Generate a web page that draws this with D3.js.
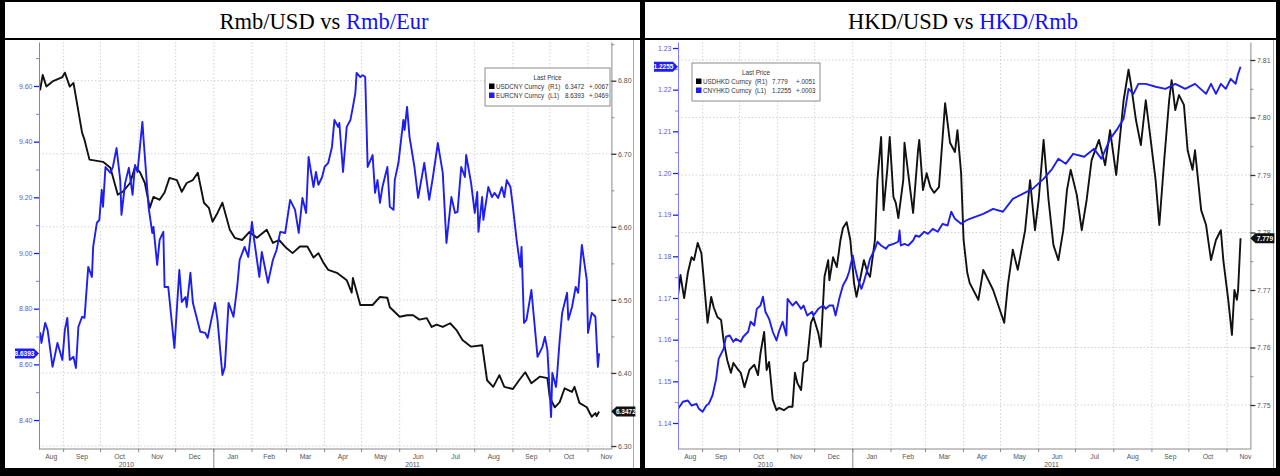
<!DOCTYPE html>
<html><head><meta charset="utf-8">
<script src="https://cdn.jsdelivr.net/npm/d3@7"></script>
<style>body{margin:0;background:#fff;}svg{display:block;}</style>
</head><body>
<svg id="c" width="1280" height="476"></svg>
<script>
// ---------------- DATA ----------------
const months = ["Aug","Sep","Oct","Nov","Dec","Jan","Feb","Mar","Apr","May","Jun","Jul","Aug","Sep","Oct","Nov"];
const years = ["2010","2011"];
const titleLeft = ["Rmb/USD vs ", "Rmb/Eur"];
const titleRight = ["HKD/USD vs ", "HKD/Rmb"];

const ticksRmbEur = [8.40, 8.60, 8.80, 9.00, 9.20, 9.40, 9.60];
const ticksRmbUsd = [6.30, 6.40, 6.50, 6.60, 6.70, 6.80];
const ticksHkdRmb = [1.14, 1.15, 1.16, 1.17, 1.18, 1.19, 1.20, 1.21, 1.22, 1.23];
const ticksHkdUsd = [7.75, 7.76, 7.77, 7.78, 7.79, 7.80, 7.81];

const legendLeft = [["USDCNY Curncy","(R1)","6.3472","+.0067"],["EURCNY Curncy","(L1)","8.6393","+.0469"]];
const legendRight = [["USDHKD Curncy","(R1)","7.779","+.0051"],["CNYHKD Curncy","(L1)","1.2255","+.0003"]];

const usdcny = [["2010-08-12",6.790],["2010-08-13",6.788],["2010-08-15",6.808],["2010-08-18",6.792],["2010-08-23",6.799],["2010-08-31",6.805],["2010-09-02",6.811],["2010-09-06",6.792],["2010-09-09",6.797],["2010-09-16",6.729],["2010-09-18",6.719],["2010-09-22",6.692],["2010-10-03",6.689],["2010-10-09",6.681],["2010-10-15",6.644],["2010-10-19",6.648],["2010-10-25",6.660],["2010-10-29",6.682],["2010-11-02",6.675],["2010-11-06",6.660],["2010-11-10",6.626],["2010-11-13",6.641],["2010-11-18",6.637],["2010-11-22",6.647],["2010-11-26",6.667],["2010-12-02",6.664],["2010-12-06",6.648],["2010-12-10",6.660],["2010-12-15",6.664],["2010-12-19",6.674],["2010-12-24",6.633],["2010-12-28",6.626],["2010-12-31",6.607],["2011-01-04",6.619],["2011-01-08",6.633],["2011-01-14",6.596],["2011-01-18",6.585],["2011-01-24",6.582],["2011-01-30",6.593],["2011-02-05",6.585],["2011-02-13",6.596],["2011-02-18",6.578],["2011-02-23",6.582],["2011-03-01",6.571],["2011-03-06",6.564],["2011-03-12",6.573],["2011-03-18",6.573],["2011-03-23",6.558],["2011-03-27",6.564],["2011-03-31",6.551],["2011-04-04",6.541],["2011-04-11",6.537],["2011-04-19",6.527],["2011-04-23",6.510],["2011-04-24",6.530],["2011-04-30",6.493],["2011-05-10",6.493],["2011-05-16",6.504],["2011-05-22",6.503],["2011-05-24",6.490],["2011-06-01",6.477],["2011-06-07",6.479],["2011-06-12",6.479],["2011-06-17",6.473],["2011-06-23",6.475],["2011-06-27",6.463],["2011-07-01",6.466],["2011-07-06",6.463],["2011-07-12",6.468],["2011-07-17",6.459],["2011-07-22",6.445],["2011-07-29",6.436],["2011-08-07",6.438],["2011-08-11",6.390],["2011-08-16",6.381],["2011-08-21",6.397],["2011-08-25",6.381],["2011-09-01",6.378],["2011-09-06",6.390],["2011-09-11",6.401],["2011-09-16",6.386],["2011-09-23",6.395],["2011-09-29",6.393],["2011-10-01",6.366],["2011-10-05",6.353],["2011-10-09",6.360],["2011-10-13",6.379],["2011-10-19",6.374],["2011-10-21",6.381],["2011-10-25",6.359],["2011-10-31",6.353],["2011-11-04",6.340],["2011-11-07",6.345],["2011-11-08",6.341],["2011-11-10",6.3472]];

const eurcny = [["2010-08-12",8.710],["2010-08-13",8.713],["2010-08-14",8.677],["2010-08-17",8.749],["2010-08-19",8.724],["2010-08-23",8.591],["2010-08-27",8.677],["2010-08-31",8.616],["2010-09-02",8.724],["2010-09-04",8.767],["2010-09-06",8.616],["2010-09-09",8.627],["2010-09-11",8.587],["2010-09-13",8.735],["2010-09-16",8.771],["2010-09-18",8.767],["2010-09-21",8.950],["2010-09-24",8.914],["2010-09-25",9.022],["2010-09-28",9.108],["2010-09-30",9.119],["2010-10-02",9.227],["2010-10-03",9.166],["2010-10-05",9.309],["2010-10-09",9.288],["2010-10-11",9.309],["2010-10-14",9.377],["2010-10-17",9.262],["2010-10-18",9.137],["2010-10-21",9.252],["2010-10-24",9.306],["2010-10-27",9.209],["2010-10-29",9.316],["2010-10-31",9.291],["2010-11-04",9.471],["2010-11-05",9.406],["2010-11-09",9.166],["2010-11-12",9.072],["2010-11-13",9.094],["2010-11-16",8.957],["2010-11-18",9.047],["2010-11-21",9.076],["2010-11-22",8.878],["2010-11-25",8.878],["2010-11-30",8.659],["2010-12-04",8.939],["2010-12-06",8.824],["2010-12-09",8.842],["2010-12-10",8.806],["2010-12-13",8.929],["2010-12-15",8.821],["2010-12-21",8.717],["2010-12-25",8.713],["2010-12-27",8.695],["2010-12-30",8.760],["2011-01-02",8.821],["2011-01-04",8.760],["2011-01-08",8.562],["2011-01-10",8.591],["2011-01-13",8.821],["2011-01-17",8.771],["2011-01-20",8.878],["2011-01-22",8.975],["2011-01-26",9.022],["2011-01-29",8.986],["2011-02-01",9.112],["2011-02-03",9.040],["2011-02-07",8.914],["2011-02-09",9.004],["2011-02-14",8.893],["2011-02-18",8.975],["2011-02-21",9.011],["2011-02-24",9.076],["2011-02-28",9.072],["2011-03-04",9.191],["2011-03-08",9.155],["2011-03-11",9.072],["2011-03-14",9.198],["2011-03-17",9.144],["2011-03-19",9.345],["2011-03-23",9.237],["2011-03-25",9.291],["2011-03-27",9.245],["2011-03-30",9.273],["2011-04-01",9.309],["2011-04-04",9.324],["2011-04-07",9.381],["2011-04-09",9.478],["2011-04-12",9.453],["2011-04-13",9.467],["2011-04-16",9.291],["2011-04-19",9.453],["2011-04-22",9.478],["2011-04-24",9.525],["2011-04-26",9.575],["2011-04-27",9.647],["2011-04-30",9.632],["2011-05-02",9.639],["2011-05-04",9.632],["2011-05-06",9.309],["2011-05-10",9.352],["2011-05-12",9.216],["2011-05-14",9.262],["2011-05-16",9.180],["2011-05-18",9.237],["2011-05-22",9.309],["2011-05-24",9.166],["2011-05-27",9.155],["2011-05-28",9.262],["2011-05-31",9.324],["2011-06-04",9.478],["2011-06-05",9.442],["2011-06-07",9.525],["2011-06-09",9.417],["2011-06-13",9.309],["2011-06-16",9.198],["2011-06-19",9.273],["2011-06-21",9.324],["2011-06-25",9.191],["2011-06-28",9.273],["2011-07-02",9.395],["2011-07-06",9.288],["2011-07-09",9.036],["2011-07-13",9.201],["2011-07-16",9.144],["2011-07-18",9.148],["2011-07-21",9.309],["2011-07-24",9.273],["2011-07-25",9.352],["2011-07-29",9.252],["2011-08-01",9.144],["2011-08-03",9.219],["2011-08-04",9.076],["2011-08-07",9.201],["2011-08-08",9.119],["2011-08-12",9.237],["2011-08-15",9.201],["2011-08-17",9.216],["2011-08-20",9.198],["2011-08-23",9.237],["2011-08-25",9.201],["2011-08-27",9.262],["2011-08-30",9.237],["2011-09-01",9.166],["2011-09-04",9.047],["2011-09-07",8.950],["2011-09-08",9.022],["2011-09-10",8.749],["2011-09-12",8.760],["2011-09-16",8.867],["2011-09-18",8.771],["2011-09-21",8.627],["2011-09-25",8.663],["2011-09-27",8.699],["2011-09-29",8.652],["2011-10-02",8.411],["2011-10-03",8.569],["2011-10-06",8.519],["2011-10-07",8.569],["2011-10-09",8.688],["2011-10-11",8.785],["2011-10-15",8.857],["2011-10-16",8.760],["2011-10-19",8.806],["2011-10-22",8.878],["2011-10-24",8.857],["2011-10-27",9.029],["2011-10-31",8.903],["2011-11-01",8.713],["2011-11-04",8.785],["2011-11-07",8.771],["2011-11-09",8.591],["2011-11-10",8.6393]];

const usdhkd = [["2010-08-12",7.7690],["2010-08-14",7.7726],["2010-08-17",7.7686],["2010-08-20",7.7730],["2010-08-23",7.7757],["2010-08-25",7.7752],["2010-08-28",7.7782],["2010-08-31",7.7764],["2010-09-02",7.7717],["2010-09-05",7.7643],["2010-09-08",7.7688],["2010-09-10",7.7670],["2010-09-13",7.7653],["2010-09-16",7.7648],["2010-09-18",7.7613],["2010-09-21",7.7578],["2010-09-24",7.7556],["2010-09-26",7.7573],["2010-09-30",7.7561],["2010-10-02",7.7556],["2010-10-05",7.7531],["2010-10-09",7.7561],["2010-10-13",7.7570],["2010-10-16",7.7552],["2010-10-18",7.7590],["2010-10-21",7.7627],["2010-10-23",7.7561],["2010-10-25",7.7575],["2010-10-28",7.7509],["2010-10-31",7.7491],["2010-11-02",7.7495],["2010-11-06",7.7491],["2010-11-10",7.7497],["2010-11-13",7.7497],["2010-11-15",7.7556],["2010-11-17",7.7538],["2010-11-20",7.7526],["2010-11-22",7.7573],["2010-11-25",7.7578],["2010-11-28",7.7643],["2010-11-30",7.7653],["2010-12-04",7.7625],["2010-12-06",7.7601],["2010-12-09",7.7723],["2010-12-12",7.7752],["2010-12-13",7.7717],["2010-12-16",7.7757],["2010-12-19",7.7740],["2010-12-22",7.7787],["2010-12-24",7.7808],["2010-12-27",7.7818],["2010-12-30",7.7787],["2011-01-02",7.7712],["2011-01-04",7.7688],["2011-01-08",7.7730],["2011-01-10",7.7752],["2011-01-13",7.7730],["2011-01-15",7.7723],["2011-01-19",7.7787],["2011-01-21",7.7891],["2011-01-24",7.7966],["2011-01-26",7.7839],["2011-01-29",7.7909],["2011-01-31",7.7966],["2011-02-03",7.7862],["2011-02-05",7.7851],["2011-02-07",7.7825],["2011-02-11",7.7891],["2011-02-12",7.7956],["2011-02-15",7.7903],["2011-02-19",7.7834],["2011-02-23",7.7943],["2011-02-24",7.7961],["2011-02-27",7.7874],["2011-03-02",7.7903],["2011-03-05",7.7879],["2011-03-08",7.7869],["2011-03-12",7.7879],["2011-03-15",7.7966],["2011-03-17",7.8025],["2011-03-21",7.7956],["2011-03-25",7.7940],["2011-03-27",7.7978],["2011-03-30",7.7903],["2011-04-01",7.7787],["2011-04-04",7.7730],["2011-04-06",7.7712],["2011-04-13",7.7683],["2011-04-17",7.7735],["2011-04-25",7.7700],["2011-05-04",7.7643],["2011-05-07",7.7709],["2011-05-11",7.7770],["2011-05-15",7.7735],["2011-05-21",7.7804],["2011-05-25",7.7891],["2011-05-29",7.7804],["2011-06-01",7.7857],["2011-06-05",7.7961],["2011-06-09",7.7857],["2011-06-13",7.7778],["2011-06-17",7.7752],["2011-06-21",7.7804],["2011-06-24",7.7874],["2011-06-27",7.7909],["2011-07-02",7.7865],["2011-07-06",7.7804],["2011-07-10",7.7857],["2011-07-14",7.7926],["2011-07-20",7.7961],["2011-07-25",7.7917],["2011-07-29",7.7978],["2011-08-03",7.7900],["2011-08-09",7.8030],["2011-08-13",7.8083],["2011-08-15",7.8057],["2011-08-19",7.7996],["2011-08-23",7.7952],["2011-08-27",7.8030],["2011-08-31",7.7961],["2011-09-04",7.7891],["2011-09-07",7.7813],["2011-09-11",7.7926],["2011-09-15",7.8030],["2011-09-17",7.8065],["2011-09-20",7.8013],["2011-09-23",7.8039],["2011-09-27",7.8022],["2011-09-30",7.7943],["2011-10-04",7.7909],["2011-10-06",7.7943],["2011-10-11",7.7839],["2011-10-15",7.7813],["2011-10-19",7.7752],["2011-10-23",7.7787],["2011-10-27",7.7804],["2011-10-29",7.7752],["2011-11-02",7.7683],["2011-11-05",7.7622],["2011-11-07",7.7700],["2011-11-09",7.7683],["2011-11-10",7.7700],["2011-11-12",7.7790]];

const cnyhkd = [["2010-08-12",1.1434],["2010-08-16",1.1451],["2010-08-20",1.1454],["2010-08-23",1.1442],["2010-08-27",1.1446],["2010-08-29",1.1434],["2010-09-01",1.1427],["2010-09-04",1.1442],["2010-09-06",1.1446],["2010-09-09",1.1466],["2010-09-12",1.1506],["2010-09-14",1.1554],["2010-09-18",1.1578],["2010-09-20",1.1607],["2010-09-23",1.1610],["2010-09-26",1.1595],["2010-09-28",1.1602],["2010-10-02",1.1595],["2010-10-04",1.1607],["2010-10-08",1.1619],["2010-10-10",1.1643],["2010-10-13",1.1634],["2010-10-15",1.1674],["2010-10-18",1.1682],["2010-10-20",1.1703],["2010-10-22",1.1667],["2010-10-25",1.1650],["2010-10-28",1.1619],["2010-10-31",1.1598],["2010-11-02",1.1619],["2010-11-05",1.1643],["2010-11-08",1.1610],["2010-11-09",1.1698],["2010-11-13",1.1682],["2010-11-16",1.1691],["2010-11-20",1.1674],["2010-11-22",1.1682],["2010-11-25",1.1658],["2010-11-29",1.1667],["2010-11-30",1.1658],["2010-12-04",1.1674],["2010-12-08",1.1682],["2010-12-10",1.1674],["2010-12-13",1.1682],["2010-12-16",1.1682],["2010-12-18",1.1658],["2010-12-21",1.1698],["2010-12-24",1.1730],["2010-12-27",1.1746],["2010-12-29",1.1763],["2011-01-01",1.1802],["2011-01-03",1.1770],["2011-01-05",1.1746],["2011-01-08",1.1722],["2011-01-10",1.1739],["2011-01-13",1.1770],["2011-01-15",1.1794],["2011-01-19",1.1818],["2011-01-21",1.1835],["2011-01-24",1.1826],["2011-01-28",1.1818],["2011-01-30",1.1826],["2011-02-03",1.1830],["2011-02-07",1.1835],["2011-02-08",1.1862],["2011-02-09",1.1826],["2011-02-12",1.1830],["2011-02-15",1.1826],["2011-02-19",1.1838],["2011-02-21",1.1850],["2011-02-24",1.1847],["2011-02-28",1.1859],["2011-03-03",1.1854],["2011-03-07",1.1866],["2011-03-11",1.1859],["2011-03-15",1.1878],["2011-03-19",1.1874],["2011-03-22",1.1907],["2011-03-25",1.1890],["2011-03-30",1.1878],["2011-04-03",1.1886],["2011-04-06",1.1890],["2011-04-17",1.1902],["2011-04-25",1.1914],["2011-05-03",1.1907],["2011-05-11",1.1938],["2011-05-19",1.1950],["2011-05-27",1.1962],["2011-06-05",1.1986],["2011-06-12",1.2010],["2011-06-17",1.2034],["2011-06-23",1.2022],["2011-06-29",1.2046],["2011-07-08",1.2039],["2011-07-16",1.2058],["2011-07-22",1.2034],["2011-07-29",1.2082],["2011-08-04",1.2106],["2011-08-09",1.2130],["2011-08-13",1.2202],["2011-08-17",1.2190],["2011-08-21",1.2214],["2011-08-27",1.2214],["2011-09-04",1.2207],["2011-09-12",1.2202],["2011-09-20",1.2214],["2011-09-28",1.2202],["2011-10-06",1.2214],["2011-10-15",1.2190],["2011-10-19",1.2214],["2011-10-23",1.2190],["2011-10-27",1.2214],["2011-10-31",1.2202],["2011-11-04",1.2226],["2011-11-08",1.2214],["2011-11-10",1.2238],["2011-11-12",1.2255]];

const xStart = "2010-08-12", xEnd = "2011-11-20";

// ---------------- DRAW ----------------
const parse = d3.timeParse("%Y-%m-%d");
const svg = d3.select("#c");
const BLUE = "#1e1ef0", AXBLUE = "#7b7bff", GREY = "#8a8a8a", TXT = "#555";
svg.append("rect").attr("width",1280).attr("height",476).attr("fill","#fff");

function tag(g, axisX, y, dir, fill, label){
  const w = 24, p = 5;
  const pts = dir < 0
    ? [[axisX,y],[axisX-p,y-5],[axisX-w,y-5],[axisX-w,y+5],[axisX-p,y+5]]
    : [[axisX,y],[axisX+p,y-5],[axisX+w,y-5],[axisX+w,y+5],[axisX+p,y+5]];
  g.append("path").attr("d","M"+pts.map(p=>p.join(",")).join("L")+"Z").attr("fill",fill);
  g.append("text").attr("x", axisX + dir*(w+p)/2).attr("y", y+2.3).attr("text-anchor","middle")
    .attr("font-family","Liberation Sans, Arial, sans-serif").attr("font-size",6.5).attr("font-weight","bold")
    .attr("fill","#fff").text(label);
}

function drawChart(cfg){
  const g = svg.append("g").attr("transform",`translate(${cfg.dx},0)`);
  const X0 = 39, X1 = 611.4, YT = 42, YB = 449;
  const x = d3.scaleTime().domain([parse(xStart), parse(xEnd)]).range([X0, X1]);
  const yL = d3.scaleLinear().domain(cfg.leftDomain).range([YB, YT]);
  const yR = d3.scaleLinear().domain(cfg.rightDomain).range([YB, YT]);
  const font = "Liberation Sans, Arial, sans-serif";

  // grid
  const grid = g.append("g").attr("stroke","#c8c8c8").attr("stroke-width",0.8).attr("stroke-dasharray","1.5,2");
  cfg.rightTicks.forEach(v => grid.append("line").attr("x1",X0).attr("x2",X1).attr("y1",yR(v)).attr("y2",yR(v)));
  const monthStarts = d3.timeMonth.range(d3.timeMonth.ceil(parse(xStart)), parse(xEnd));
  monthStarts.forEach(d => grid.append("line").attr("x1",x(d)).attr("x2",x(d)).attr("y1",YT).attr("y2",YB));

  // lines
  const cid = "clip"+cfg.dx;
  g.append("clipPath").attr("id",cid).append("rect").attr("x",X0).attr("y",YT).attr("width",X1-X0).attr("height",YB-YT);
  const lineR = d3.line().x(d=>x(parse(d[0]))).y(d=>yR(d[1]));
  const lineL = d3.line().x(d=>x(parse(d[0]))).y(d=>yL(d[1]));
  const lg = g.append("g").attr("clip-path",`url(#${cid})`).attr("fill","none").attr("stroke-width",1.9).attr("stroke-linejoin","round");
  lg.append("path").attr("d",lineR(cfg.rightSeries)).attr("stroke","#111");
  lg.append("path").attr("d",lineL(cfg.leftSeries)).attr("stroke",BLUE);

  // axes
  const fmt = d3.format(".2f");
  const mid = t => t.slice(1).map((v,i)=>(v+t[i])/2).concat([t[t.length-1]+(t[1]-t[0])/2]);
  const aL = g.append("g").attr("transform",`translate(${X0},0)`)
    .call(d3.axisLeft(yL).tickValues(cfg.leftTicks).tickSize(5).tickSizeOuter(0).tickPadding(1.5).tickFormat(fmt));
  aL.select(".domain").attr("stroke",AXBLUE);
  aL.selectAll(".tick line").attr("stroke",BLUE).attr("stroke-width",1.3);
  aL.selectAll("text").attr("fill","#5a5ae0").attr("font-size",7).attr("font-family",font);
  const aLm = g.append("g").attr("transform",`translate(${X0},0)`)
    .call(d3.axisLeft(yL).tickValues(mid(cfg.leftTicks).filter(v=>v<cfg.leftDomain[1])).tickSize(3).tickFormat(""));
  aLm.select(".domain").remove(); aLm.selectAll("line").attr("stroke",AXBLUE);

  const aR = g.append("g").attr("transform",`translate(${X1},0)`)
    .call(d3.axisRight(yR).tickValues(cfg.rightTicks).tickSize(5).tickSizeOuter(0).tickPadding(1.5).tickFormat(fmt));
  aR.select(".domain").attr("stroke",GREY);
  aR.selectAll(".tick line").attr("stroke","#333").attr("stroke-width",1.3);
  aR.selectAll("text").attr("fill",TXT).attr("font-size",7).attr("font-family",font);
  const aRm = g.append("g").attr("transform",`translate(${X1},0)`)
    .call(d3.axisRight(yR).tickValues(mid(cfg.rightTicks).filter(v=>v<cfg.rightDomain[1])).tickSize(3).tickFormat(""));
  aRm.select(".domain").remove(); aRm.selectAll("line").attr("stroke",GREY);

  // bottom axis
  g.append("line").attr("x1",X0).attr("x2",X1).attr("y1",YB).attr("y2",YB).attr("stroke",GREY);
  monthStarts.forEach(d => g.append("line").attr("x1",x(d)).attr("x2",x(d)).attr("y1",YB).attr("y2",YB+3).attr("stroke",GREY));
  const allMonths = d3.timeMonth.range(d3.timeMonth.floor(parse(xStart)), parse(xEnd));
  allMonths.forEach((d,i) => {
    const a = Math.max(+d, +parse(xStart)), b = +d3.timeMonth.offset(d,1);
    g.append("text").attr("x",(x(new Date(a))+x(new Date(b)))/2).attr("y",YB+10)
      .attr("text-anchor","middle").attr("font-family",font).attr("font-size",6.8).attr("fill",TXT).text(months[i]);
  });
  const jan = parse("2011-01-01");
  g.append("line").attr("x1",x(jan)).attr("x2",x(jan)).attr("y1",YB).attr("y2",YB+19).attr("stroke",GREY);
  g.append("text").attr("x",(X0+x(jan))/2).attr("y",YB+18).attr("text-anchor","middle")
    .attr("font-family",font).attr("font-size",6.8).attr("fill",TXT).text(years[0]);
  g.append("text").attr("x",(x(jan)+X1)/2).attr("y",YB+18).attr("text-anchor","middle")
    .attr("font-family",font).attr("font-size",6.8).attr("fill",TXT).text(years[1]);

  // last price tags
  const lastL = cfg.leftSeries[cfg.leftSeries.length-1][1];
  const lastR = cfg.rightSeries[cfg.rightSeries.length-1][1];
  tag(g, X0, yL(lastL), -1, BLUE, cfg.legend[1][2]);
  tag(g, X1, yR(lastR), 1, "#111", cfg.legend[0][2]);

  // legend
  const L = cfg.legendBox;
  const lgd = g.append("g").attr("font-family",font).attr("font-size",6.3).attr("fill","#333");
  lgd.append("rect").attr("x",L[0]).attr("y",L[1]).attr("width",L[2]).attr("height",L[3])
    .attr("fill","#fff").attr("stroke","#8c8c8c").attr("stroke-width",1);
  lgd.append("text").attr("x",L[0]+L[2]/2).attr("y",L[1]+12).attr("text-anchor","middle").text("Last Price");
  cfg.legend.forEach((row,i) => {
    const yy = L[1] + 21 + i*9;
    lgd.append("rect").attr("x",L[0]+4).attr("y",yy-5.5).attr("width",5.5).attr("height",5.5).attr("fill", i===0 ? "#000" : BLUE);
    const cols = [11, 63, 80, 104];
    row.forEach((t,j) => lgd.append("text").attr("x",L[0]+cols[j]).attr("y",yy).text(t));
  });
}

// frame
const blk = (x,y,w,h)=>svg.append("rect").attr("x",x).attr("y",y).attr("width",w).attr("height",h).attr("fill","#000");
svg.append("line").attr("x1",633.5).attr("x2",633.5).attr("y1",40).attr("y2",468).attr("stroke","#aaa");
svg.append("line").attr("x1",1273.5).attr("x2",1273.5).attr("y1",40).attr("y2",468).attr("stroke","#aaa");

drawChart({dx:0, leftDomain:[8.296, 9.758], rightDomain:[6.2959, 6.853],
  leftTicks:ticksRmbEur, rightTicks:ticksRmbUsd, leftSeries:eurcny, rightSeries:usdcny,
  legend:legendLeft, legendBox:[485,68,125,38]});
drawChart({dx:639, leftDomain:[1.13376, 1.23144], rightDomain:[7.74235, 7.81313],
  leftTicks:ticksHkdRmb, rightTicks:ticksHkdUsd, leftSeries:cnyhkd, rightSeries:usdhkd,
  legend:legendRight, legendBox:[53,63,128,38]});

blk(0,0,1280,2); blk(0,38,1280,2); blk(0,0,5,476); blk(640,0,5,476); blk(1276,0,4,476); blk(0,468,1280,8);

function title(cx, parts){
  const t = svg.append("text").attr("x",cx).attr("y",29).attr("text-anchor","middle")
    .attr("font-family","Liberation Serif, Times New Roman, serif").attr("font-size",22.5);
  t.append("tspan").attr("fill","#000").text(parts[0]);
  t.append("tspan").attr("fill","#1010ff").text(parts[1]);
}
title(324, titleLeft);
title(963, titleRight);
</script>
</body></html>
